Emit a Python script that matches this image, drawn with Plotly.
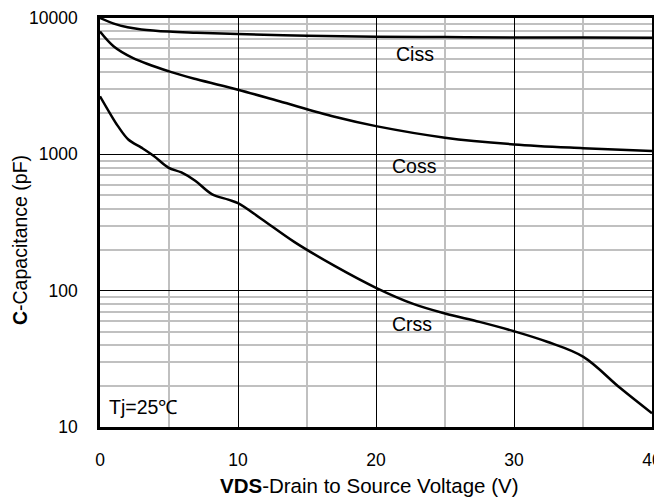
import math
import plotly.graph_objects as go

# Data
ciss_v = [0, 1, 2, 3, 5, 7, 10, 15, 20, 25, 30, 35, 40]
ciss_c = [10000, 9100, 8550, 8250, 7950, 7800, 7620, 7420, 7300, 7250, 7200, 7180, 7150]

coss_v = [0, 1, 2.4, 5, 7, 10, 13, 17, 20, 25, 30, 35, 40]
coss_c = [7950, 6180, 5080, 4060, 3550, 2980, 2450, 1885, 1610, 1325, 1183, 1110, 1057]

crss_v = [0, 0.7, 1.3, 2.05, 3.0, 3.9, 4.95, 5.9, 6.9, 8.1, 9.3, 10, 11.7, 14.1, 17,
          20, 22.7, 25, 27.5, 30, 32.4, 35, 37.7, 40]
crss_c = [2665, 2015, 1610, 1285, 1120, 973, 800, 736, 640, 511, 465, 439, 336, 227, 152,
          105, 80, 68, 59, 50.4, 42.2, 32.8, 19.3, 12.6]

labels = ["Ciss", "Coss", "Crss"]
label_v = [22.8, 22.8, 22.6]
label_c = [5400, 820, 57]

y_major = [10, 100, 1000, 10000]
y_major_text = ["10", "100", "1000", "10000"]
y_minor = [m * d for d in (10, 100, 1000) for m in range(2, 10)]

fig = go.Figure()
for v, c in ((ciss_v, ciss_c), (coss_v, coss_c), (crss_v, crss_c)):
    fig.add_trace(go.Scatter(x=v, y=c, mode="lines",
                             line=dict(color="black", width=2.5, shape="spline", smoothing=1.0),
                             showlegend=False, hoverinfo="skip", cliponaxis=True))

for t, xv, yv in zip(labels, label_v, label_c):
    fig.add_annotation(x=xv, y=math.log10(yv), text=t, showarrow=False,
                       font=dict(size=19.5, color="black"))

fig.add_annotation(xref="paper", yref="paper", x=0.012, y=0.05, xanchor="left", yanchor="middle",
                   text="Tj=25℃", showarrow=False, font=dict(size=19.5, color="black"))

# Axis titles as annotations for exact placement
fig.add_annotation(xref="paper", yref="paper", x=0.489, y=-0.142, xanchor="center", yanchor="middle",
                   text="<b>VDS</b>-Drain to Source Voltage (V)", showarrow=False,
                   font=dict(size=20.5, color="black"))
fig.add_annotation(xref="paper", yref="paper", x=-0.145, y=0.457, xanchor="center", yanchor="middle",
                   text="<b>C</b>-Capacitance (pF)", showarrow=False, textangle=-90,
                   font=dict(size=19.5, color="black"))

# The page body adds an 8px margin, so the figure is sized to fit the window
fig.update_layout(
    width=654, height=489,
    margin=dict(l=92, r=10, t=10, b=70, autoexpand=False),
    paper_bgcolor="white", plot_bgcolor="white",
    font=dict(family="Liberation Sans, Arial, sans-serif", size=16, color="black"),
)
fig.update_xaxes(
    range=[0, 40], tickvals=[0, 10, 20, 30, 40], ticks="", ticklabelstandoff=15,
    showgrid=True, gridcolor="black", gridwidth=1,
    minor=dict(tickvals=[5, 15, 25, 35], showgrid=True, gridcolor="#c0c0c0", gridwidth=1.5),
    showline=True, linecolor="black", linewidth=2.5, mirror=True, zeroline=False,
    automargin=False, tickfont=dict(size=17.5),
)
fig.update_yaxes(
    type="log", range=[1, 4], tickvals=y_major, ticktext=y_major_text, ticks="",
    ticklabelstandoff=16,
    showgrid=True, gridcolor="black", gridwidth=1,
    minor=dict(tickvals=y_minor, showgrid=True, gridcolor="#c0c0c0", gridwidth=1.5),
    showline=True, linecolor="black", linewidth=2.5, mirror=True, zeroline=False,
    automargin=False, tickfont=dict(size=17.5),
)

fig.write_html("out.html")
